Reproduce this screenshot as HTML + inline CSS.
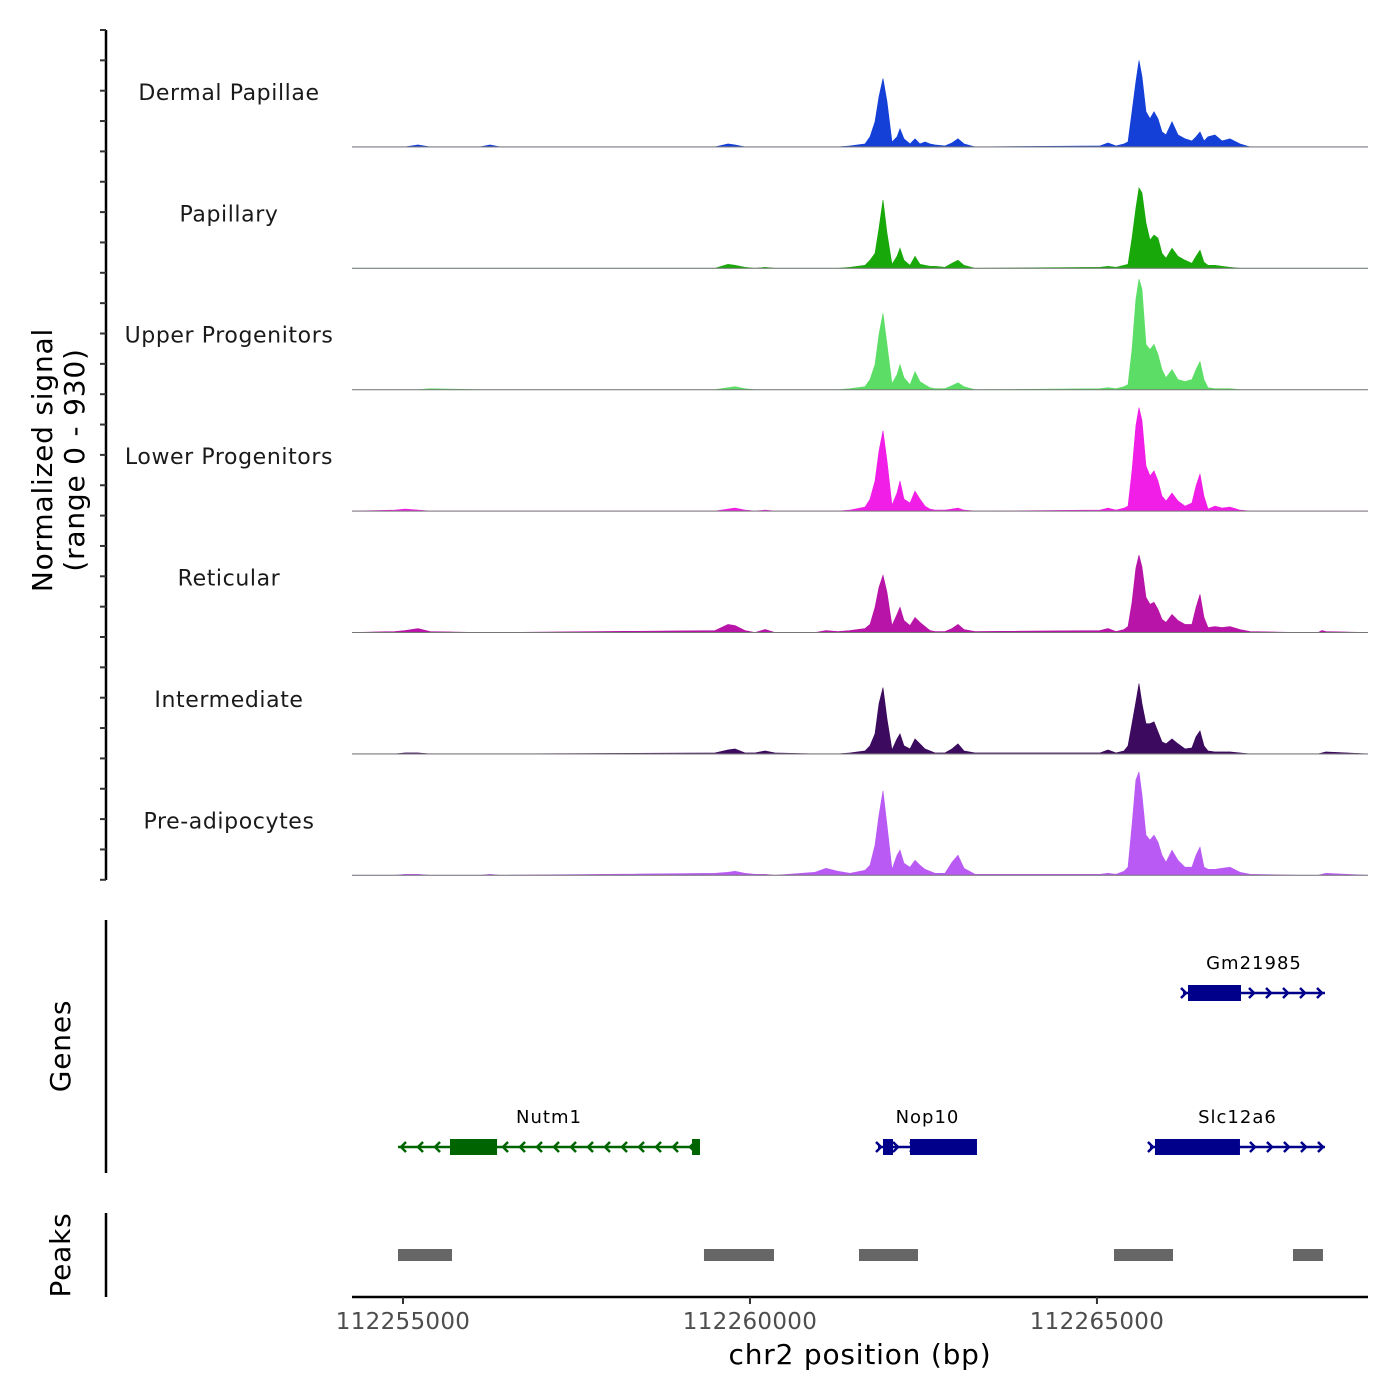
<!DOCTYPE html>
<html><head><meta charset="utf-8"><style>
html,body{margin:0;padding:0;background:#fff;}
svg{display:block;font-family:"DejaVu Sans","Liberation Sans",sans-serif;}
</style></head><body>
<svg id="chart" width="1400" height="1400" viewBox="0 0 1400 1400" xmlns="http://www.w3.org/2000/svg"></svg>
<script>
// ---- data ----
const positions = [112254265,112254885,112255029,112255216,112255389,112256110,112256254,112256398,112259496,112259683,112259784,112259928,112260072,112260216,112260361,112260937,112261095,112261268,112261441,112261657,112261729,112261802,112261859,112261917,112261974,112262046,112262119,112262162,112262219,112262306,112262378,112262450,112262522,112262594,112262666,112262810,112262911,112262998,112263084,112263243,112265044,112265159,112265274,112265390,112265447,112265505,112265562,112265606,112265649,112265707,112265764,112265822,112265880,112265937,112265995,112266081,112266168,112266269,112266369,112266427,112266485,112266542,112266600,112266701,112266802,112266917,112267061,112267205,112267926,112268185,112268243,112268300,112268906];
const trackNames = ["Dermal Papillae","Papillary","Upper Progenitors","Lower Progenitors","Reticular","Intermediate","Pre-adipocytes"];
const trackColors = ["#1440d8","#19a80a","#5cde66","#f01ee6","#b814a8","#3c0a5e","#b95af5"];
const dermalPapillae = [0,0,0,15,0,0,15,0, 0,23,15,0,0,0,0, 0,0,0,8,23, 77,193,385,524,347, 38,77,139,62,23, 62,23,38,23,15, 8,31,62,23,0, 8,31,8,23,38, 270,500,662,539,270, 216,270,216,115,92, 193,92,62,46,77, 115,46,77,92,46, 62,23,0,0,0, 0,0,0];
const papillary = [0,0,0,0,0,0,0,0, 0,31,23,8,0,8,0, 0,0,0,8,23, 62,115,308,524,270, 31,92,154,62,23, 92,31,23,15,15, 8,38,62,23,0, 8,15,8,23,31, 231,462,616,578,347, 216,254,231,115,77, 154,92,62,38,92, 139,46,23,23,15, 8,0,0,0,0, 0,0,0];
const upperProgenitors = [0,0,0,0,8,0,0,0, 0,15,23,8,0,0,0, 0,0,0,8,23, 77,193,424,585,347, 46,115,193,92,38, 139,62,38,15,8, 8,31,54,23,0, 8,15,8,23,38, 308,693,847,770,347, 308,347,270,154,92, 154,77,62,77,154, 216,77,15,8,8, 8,0,0,0,0, 0,0,0];
const lowerProgenitors = [0,8,15,8,0,0,0,0, 0,15,23,8,0,8,0, 0,0,0,8,31, 92,231,462,616,385, 46,139,231,92,62, 154,92,38,15,8, 8,15,23,8,0, 8,23,8,23,38, 308,655,793,693,347, 270,308,231,115,77, 139,77,38,62,193, 285,115,15,38,23, 31,8,0,0,0, 0,0,0];
const reticular = [0,8,15,31,8,0,0,0, 15,62,54,15,0,23,0, 0,15,8,15,31, 62,193,347,439,308, 54,139,193,92,54, 115,77,46,15,8, 8,31,62,23,8, 15,31,8,23,46, 231,493,593,501,270, 216,231,177,100,77, 139,92,62,62,192, 293,115,38,46,38, 46,23,8,0,0,15,8,0];
const intermediate = [0,0,8,8,0,0,0,0, 8,31,38,8,8,23,8, 0,0,0,8,23, 62,154,385,508,270, 31,115,154,62,38, 115,77,38,23,8, 8,38,77,23,8, 8,31,8,23,62, 231,400,539,385,231, 231,246,170,92,77, 115,77,38,46,131, 177,62,23,15,15, 15,8,0,0,0,8,15,0];
const preAdipocytes = [0,0,8,8,0,0,8,0, 15,23,31,15,8,8,0, 23,54,31,15,38, 77,231,462,647,385, 46,154,193,92,62, 115,77,46,31,15, 15,100,154,54,8, 8,15,8,31,62, 385,731,793,616,308, 270,308,254,154,100, 192,115,62,62,154, 216,62,46,46,54, 62,23,8,0,0,8,15,0];
const trackValues = [dermalPapillae,papillary,upperProgenitors,lowerProgenitors,reticular,intermediate,preAdipocytes];
const xTicks = [112255000,112260000,112265000];
const geneNames = ["Nutm1","Nop10","Slc12a6","Gm21985"];
const geneStarts = [112254928,112261845,112265764,112266240];
const geneEnds = [112259280,112263271,112268286,112268286];
const geneStrands = [-1,1,1,1];
const geneRows = [1,1,1,0];
const exonGene = [0,0,1,1,2,3];
const exonStarts = [112255677,112259165,112261917,112262306,112265836,112266312];
const exonEnds = [112256355,112259280,112262061,112263271,112267061,112267076];
const peakStarts = [112254928,112259337,112261571,112265246,112267825];
const peakEnds = [112255706,112260346,112262421,112266096,112268257];
const yMax = 930;

// ---- scales ----
const X0=352,X1=1368, D0=112254265, D1=112268906;
const xs = v => X0 + (v-D0)/(D1-D0)*(X1-X0);
const trackTop=25.5, trackH=121.4;
const base = i => trackTop + (i+1)*trackH;
const ys = (i,v) => base(i) - v/yMax*trackH;
const svg=document.getElementById('chart');
const NS="http://www.w3.org/2000/svg";
function mk(tag,attrs,parent){const e=document.createElementNS(NS,tag);for(const k in attrs)e.setAttribute(k,attrs[k]);(parent||svg).appendChild(e);return e;}

// tracks
trackValues.forEach((vals,i)=>{
  const g=mk('g',{});
  
  
  let d='M'+xs(positions[0])+','+base(i);
  positions.forEach((p,j)=>{d+=' L'+xs(p).toFixed(1)+','+ys(i,vals[j]).toFixed(1);});
  d+=' L'+xs(positions[positions.length-1])+','+base(i)+' Z';
  const a=mk('path',{d:d,fill:trackColors[i],stroke:trackColors[i],'stroke-width':0.6},g);
  
  
  const bl=mk('line',{x1:X0,x2:X1,y1:base(i),y2:base(i),stroke:'#777','stroke-width':1},g);
  
  
  const t=mk('text',{x:229,y:base(i)-47,'text-anchor':'middle','font-size':22,fill:'#1a1a1a','letter-spacing':'0.6'},g);
  t.textContent=trackNames[i];
  
  
});

// left signal axis
const ax=mk('line',{x1:106,x2:106,y1:30,y2:880,stroke:'#000','stroke-width':2.5});


for(let k=0;k<=28;k++){
  const y=trackTop+4.5+k*trackH/4;
  if(y>880)break;
  const tk=mk('line',{x1:100,x2:106,y1:y,y2:y,stroke:'#333','stroke-width':2});
  
  
}
const yt=mk('text',{transform:'translate(52,460) rotate(-90)','text-anchor':'middle','font-size':28,fill:'#000','letter-spacing':'0.8'});


const ts1=mk('tspan',{x:0,dy:0},yt); ts1.textContent='Normalized signal';
const ts2=mk('tspan',{x:0,dy:32},yt); ts2.textContent='(range 0 - 930)';

// genes panel
const ga=mk('line',{x1:106,x2:106,y1:920,y2:1173,stroke:'#000','stroke-width':2.5});


const gt=mk('text',{transform:'translate(70,1046) rotate(-90)','text-anchor':'middle','font-size':28,fill:'#000','letter-spacing':'0.8'});
gt.textContent='Genes';


const rowY=[993,1147];
geneNames.forEach((n,i)=>{
  const col=geneStrands[i]<0?'#006400':'#00008b';
  const y=rowY[geneRows[i]];
  const g=mk('g',{});
  
  
  const x1=xs(geneStarts[i]),x2=xs(geneEnds[i]);
  mk('line',{x1:x1,x2:x2,y1:y,y2:y,stroke:col,'stroke-width':2.5},g);
  for(let x=x1+3;x<=x2+1;x+=17){
    const s=geneStrands[i]*5;
    mk('polyline',{points:(x-s)+','+(y-5)+' '+x+','+y+' '+(x-s)+','+(y+5),fill:'none',stroke:col,'stroke-width':2.5},g);
  }
  exonGene.forEach((gi,j)=>{ if(gi!==i)return;
    const r=mk('rect',{x:xs(exonStarts[j]),y:y-8,width:xs(exonEnds[j])-xs(exonStarts[j]),height:16,fill:col},g);
    
    
  });
  const t=mk('text',{x:(x1+x2)/2,y:y-24,'text-anchor':'middle','font-size':18,fill:'#000','letter-spacing':'1'},g);
  t.textContent=n;
});

// peaks panel
const pa=mk('line',{x1:106,x2:106,y1:1213,y2:1297,stroke:'#000','stroke-width':2.5});


const pt=mk('text',{transform:'translate(70,1255) rotate(-90)','text-anchor':'middle','font-size':28,fill:'#000','letter-spacing':'0.8'});
pt.textContent='Peaks';


peakStarts.forEach((s,i)=>{
  const r=mk('rect',{x:xs(s),y:1249,width:xs(peakEnds[i])-xs(s),height:12,fill:'#666'});
  
  
});

// x axis
const xa=mk('line',{x1:X0,x2:X1,y1:1297,y2:1297,stroke:'#000','stroke-width':2.5});


xTicks.forEach(v=>{
  const tk=mk('line',{x1:xs(v),x2:xs(v),y1:1297,y2:1304,stroke:'#333','stroke-width':2});
  
  
  const t=mk('text',{x:xs(v),y:1329,'text-anchor':'middle','font-size':23,fill:'#4d4d4d','letter-spacing':'0.3'});
  t.textContent=String(v);
  
  
});
const xt=mk('text',{x:860,y:1364,'text-anchor':'middle','font-size':28,fill:'#000','letter-spacing':'0.8'});
xt.textContent='chr2 position (bp)';


</script>
</body></html>
